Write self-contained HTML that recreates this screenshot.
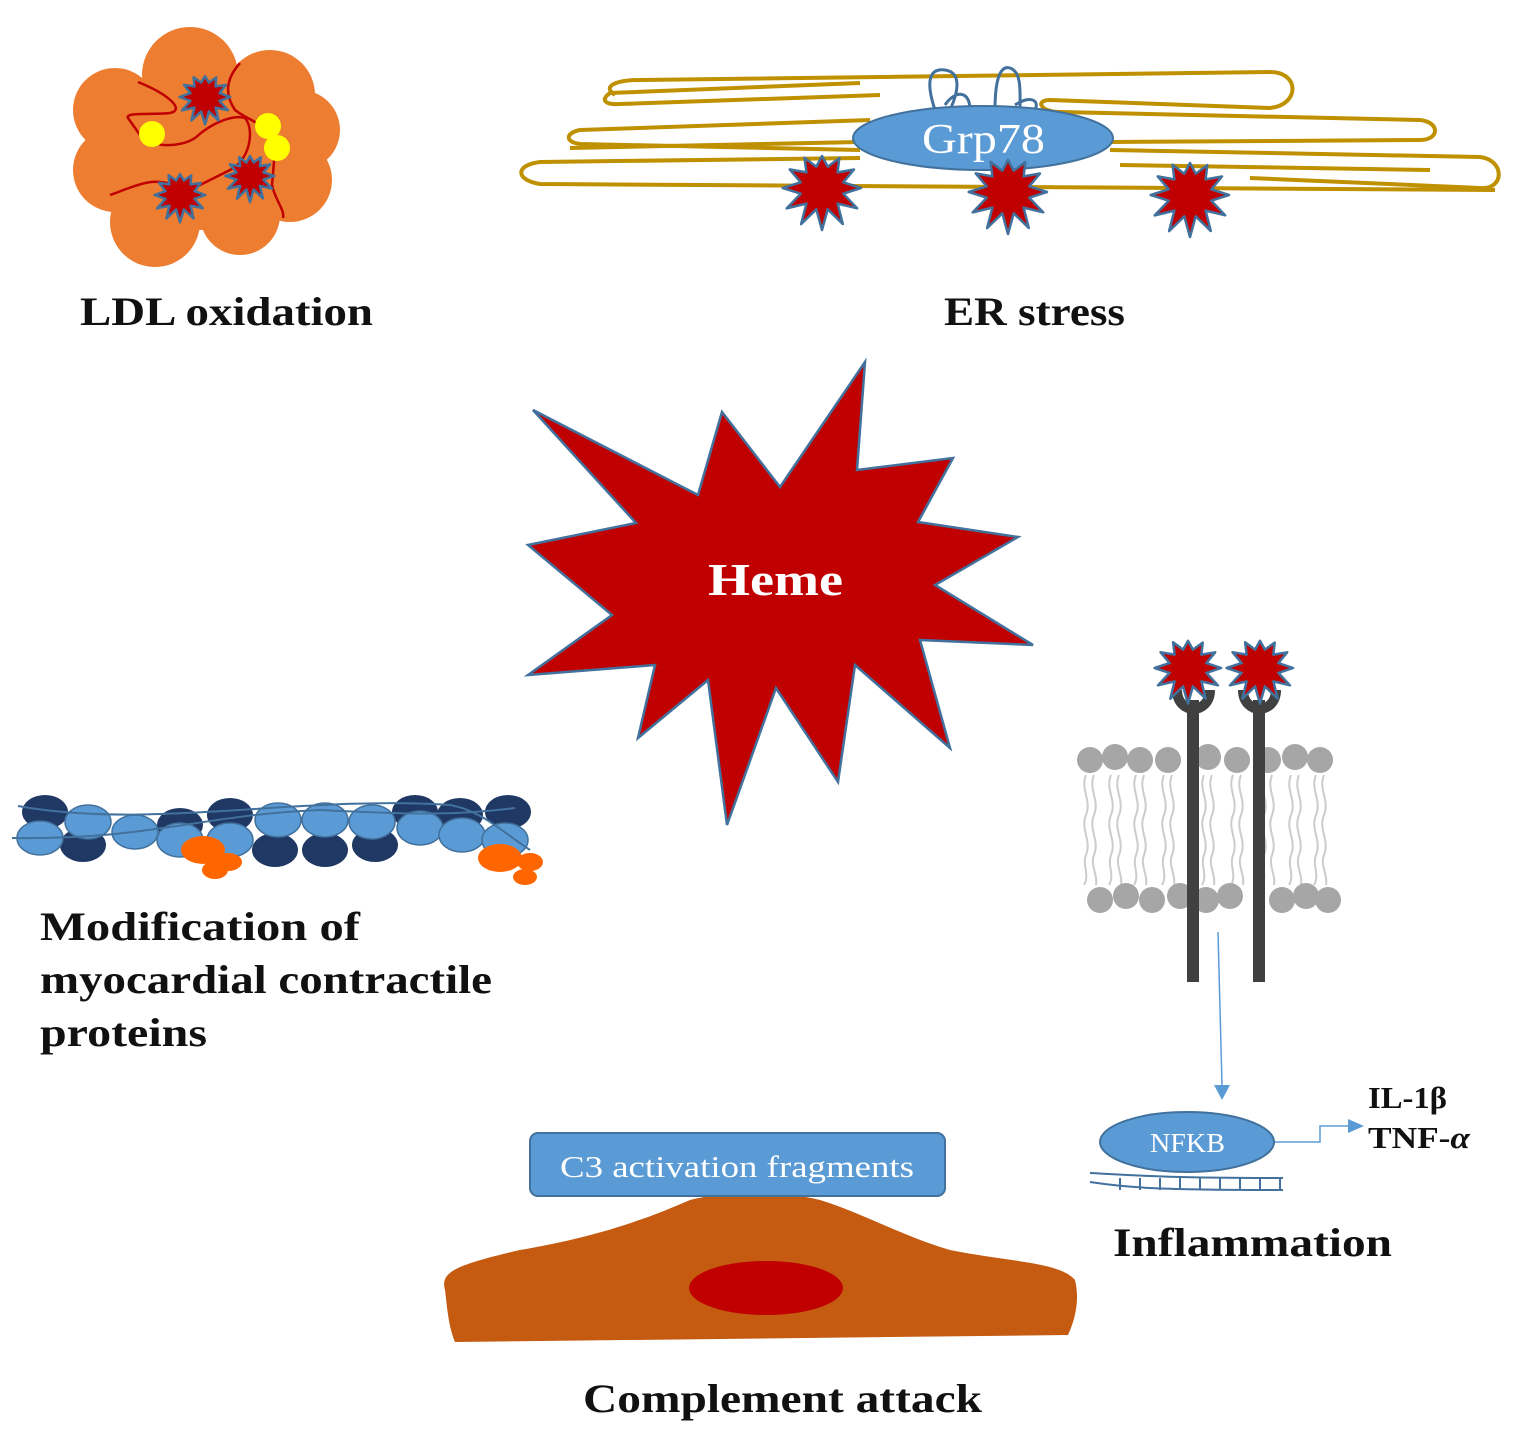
<!DOCTYPE html>
<html><head><meta charset="utf-8"><style>
body{margin:0;background:#fff}
svg{display:block}
.lab{font-family:"Liberation Serif",serif;font-weight:bold;fill:#111}
</style></head><body>
<svg id="s" width="1527" height="1446" viewBox="0 0 1527 1446" xmlns="http://www.w3.org/2000/svg">
<!-- LDL -->
<g fill="#ED7D31">
<circle cx="190" cy="75" r="48"/><circle cx="270" cy="95" r="45"/><circle cx="300" cy="130" r="40"/>
<circle cx="290" cy="180" r="42"/><circle cx="240" cy="215" r="40"/><circle cx="155" cy="222" r="45"/>
<circle cx="115" cy="170" r="42"/><circle cx="115" cy="110" r="42"/><circle cx="200" cy="150" r="80"/>
</g>
<g fill="none" stroke="#C00000" stroke-width="2.5">
<path d="M138 82 C170 95 185 110 170 113 C150 115 125 112 128 118 L140 135 C150 148 180 148 195 138 C215 120 235 115 245 118 C255 130 250 160 230 170 L200 185 C190 190 175 183 160 182 C145 180 125 190 110 195"/>
<path d="M240 63 C225 80 225 95 235 110 C250 122 265 120 275 150 L272 185 C275 200 285 210 283 218"/>
</g>
<circle cx="152" cy="134" r="13" fill="#FFFF00"/><circle cx="268" cy="126" r="13" fill="#FFFF00"/><circle cx="277" cy="148" r="13" fill="#FFFF00"/>
<g id="ldlstars"></g>
<!-- ER -->
<g fill="none" stroke="#BF9000" stroke-width="4">
<path d="M615 95 C600 85 620 80 640 80 L1270 72 C1300 72 1300 105 1270 108 L1050 100 C1035 100 1040 112 1060 112 L1420 120 C1440 122 1440 140 1420 140 L1110 142"/>
<path d="M860 83 L610 93 C600 100 605 105 620 104 L880 95 M870 120 L580 130 C565 133 565 142 580 144 L860 150"/>
<path d="M1110 150 L1480 157 C1505 160 1505 190 1480 188 L1250 178 M1120 165 L1430 170"/>
<path d="M860 158 L540 162 C515 165 515 180 540 184 L1495 190 M860 142 L570 148"/>
</g>
<g fill="none" stroke="#41719C" stroke-width="3">
<path d="M935 110 C925 80 930 68 945 70 C960 72 960 88 950 110 M945 105 C955 90 970 90 970 110"/>
<path d="M995 110 C995 80 1000 65 1010 68 C1022 72 1020 92 1020 110 M1015 105 C1030 95 1040 100 1035 110"/>
</g>
<ellipse cx="983" cy="138" rx="130" ry="32" fill="#5B9BD5" stroke="#41719C" stroke-width="2"/>
<text x="922" y="153" textLength="123" lengthAdjust="spacingAndGlyphs" font-family="Liberation Serif,serif" font-size="42" fill="#fff">Grp78</text>
<g id="erstars"></g>
<text class="lab" x="80" y="325" font-size="40" textLength="293" lengthAdjust="spacingAndGlyphs">LDL oxidation</text>
<text class="lab" x="944" y="325" font-size="40" textLength="181" lengthAdjust="spacingAndGlyphs">ER stress</text>
<!-- Heme -->
<polygon points="865,362 857,470 953,458 918,522 1018,537 935,585 1033,645 920,640 950,748 855,665 838,782 776,688 727,825 708,680 638,738 655,665 528,675 612,615 528,545 636,523 533,410 698,495 722,412 780,487" fill="#C00000" stroke="#41719C" stroke-width="2.5"/>
<text x="708" y="595" textLength="135" lengthAdjust="spacingAndGlyphs" font-family="Liberation Serif,serif" font-weight="bold" font-size="46" fill="#fff">Heme</text>
<!-- muscle -->
<g id="muscle"></g>
<text class="lab" x="40" y="940" font-size="40" textLength="320" lengthAdjust="spacingAndGlyphs">Modification of</text>
<text class="lab" x="40" y="993" font-size="40" textLength="452" lengthAdjust="spacingAndGlyphs">myocardial contractile</text>
<text class="lab" x="40" y="1046" font-size="40" textLength="167" lengthAdjust="spacingAndGlyphs">proteins</text>
<!-- membrane -->
<g id="mem"></g>
<rect x="1187" y="700" width="12" height="282" fill="#404040"/>
<rect x="1253" y="700" width="12" height="282" fill="#404040"/>
<path d="M1177 690 C1177 715 1210 715 1210 690" fill="none" stroke="#404040" stroke-width="10"/>
<path d="M1243 690 C1243 715 1276 715 1276 690" fill="none" stroke="#404040" stroke-width="10"/>
<g id="recstars"></g>
<line x1="1218" y1="932" x2="1222" y2="1085" stroke="#5B9BD5" stroke-width="1.5"/>
<polygon points="1214,1085 1230,1085 1222,1100" fill="#5B9BD5"/>
<g fill="none" stroke="#41719C" stroke-width="2">
<path d="M1090 1173 C1130 1175 1160 1178 1283 1178 M1090 1182 C1130 1188 1160 1190 1283 1190"/>
<path d="M1120 1178 v12 M1140 1178 v12 M1160 1178 v12 M1180 1178 v12 M1200 1178 v12 M1220 1178 v12 M1240 1178 v12 M1260 1178 v12 M1280 1178 v12"/>
</g>
<ellipse cx="1187" cy="1142" rx="87" ry="30" fill="#5B9BD5" stroke="#41719C" stroke-width="2"/>
<text x="1150" y="1152" textLength="75" lengthAdjust="spacingAndGlyphs" font-family="Liberation Serif,serif" font-size="27" fill="#fff">NFKB</text>
<path d="M1275 1142 H1320 V1126 H1350" fill="none" stroke="#5B9BD5" stroke-width="1.5"/>
<polygon points="1348,1119 1364,1126 1348,1133" fill="#5B9BD5"/>
<text class="lab" x="1368" y="1108" font-size="31" textLength="79" lengthAdjust="spacingAndGlyphs">IL-1β</text>
<text class="lab" x="1368" y="1148" font-size="31" textLength="102" lengthAdjust="spacingAndGlyphs">TNF-<tspan font-style="italic">α</tspan></text>
<text class="lab" x="1113" y="1256" font-size="40" textLength="279" lengthAdjust="spacingAndGlyphs">Inflammation</text>
<!-- complement -->
<path d="M445 1290 C440 1272 455 1265 520 1250 C590 1238 640 1222 690 1200 C720 1192 780 1190 820 1200 C860 1212 900 1235 950 1250 C1010 1262 1060 1262 1075 1280 C1080 1300 1075 1320 1068 1335 L455 1342 C448 1325 447 1305 445 1290 Z" fill="#C55A11"/>
<ellipse cx="766" cy="1288" rx="77" ry="27" fill="#C00000"/>
<rect x="530" y="1133" width="415" height="63" rx="8" fill="#5B9BD5" stroke="#41719C" stroke-width="2"/>
<text x="560" y="1177" textLength="354" lengthAdjust="spacingAndGlyphs" font-family="Liberation Serif,serif" font-size="31" fill="#fff">C3 activation fragments</text>
<text class="lab" x="583" y="1412" font-size="40" textLength="399" lengthAdjust="spacingAndGlyphs">Complement attack</text>
</svg>
<script>
(function(){
var NS="http://www.w3.org/2000/svg";
function star(g,cx,cy,R,r,n){var p=[];for(var i=0;i<2*n;i++){var a=Math.PI*i/n;var rr=i%2?r:R*(0.8+0.25*Math.abs(Math.sin(i*1.7)));p.push((cx+rr*Math.sin(a)).toFixed(1)+","+(cy-rr*Math.cos(a)).toFixed(1));}
var e=document.createElementNS(NS,"polygon");e.setAttribute("points",p.join(" "));e.setAttribute("fill","#C00000");e.setAttribute("stroke","#41719C");e.setAttribute("stroke-width","2.5");e.setAttribute("stroke-linejoin","round");document.getElementById(g).appendChild(e);}
star("ldlstars",205,97,26,15,12);star("ldlstars",180,195,26,15,12);star("ldlstars",250,176,25,14,12);
star("erstars",822,188,40,22,12);star("erstars",1008,192,40,22,12);star("erstars",1190,195,40,22,12);
star("recstars",1188,668,34,19,12);star("recstars",1260,668,34,19,12);
function el(g,tag,at){var e=document.createElementNS(NS,tag);for(var k in at)e.setAttribute(k,at[k]);document.getElementById(g).appendChild(e);}
var tops=[1090,1115,1140,1168,1208,1237,1268,1295,1320],bots=[1100,1126,1152,1180,1206,1230,1282,1306,1328];
tops.forEach(function(x){for(var k=-1;k<=1;k+=2){el("mem","path",{d:"M"+(x+k*4)+" 775 c-6 15 6 25 0 40 c-6 15 6 25 0 40 c-4 10 4 20 "+(k*2)+" 30",fill:"none",stroke:"#ccc","stroke-width":"2"});}});
tops.forEach(function(x,i){el("mem","circle",{cx:x,cy:760+(i%3==1?-3:0),r:13,fill:"#A6A6A6"});});
bots.forEach(function(x,i){el("mem","circle",{cx:x,cy:900+(i%2?-4:0),r:13,fill:"#A6A6A6"});});
var dk=[[45,812],[83,845],[180,825],[230,815],[275,850],[325,850],[375,845],[415,812],[460,815],[508,812]];
dk.forEach(function(c){el("muscle","ellipse",{cx:c[0],cy:c[1],rx:23,ry:17,fill:"#203864"});});
var lt=[[40,838],[88,822],[135,832],[180,840],[230,840],[278,820],[325,820],[372,822],[420,828],[462,835],[505,840]];
lt.forEach(function(c){el("muscle","ellipse",{cx:c[0],cy:c[1],rx:23,ry:17,fill:"#5B9BD5",stroke:"#41719C","stroke-width":"1.5"});});
el("muscle","path",{d:"M18 806 C150 830 300 795 450 805 C480 810 500 830 530 850 M12 838 C150 840 200 815 320 810 C420 815 460 815 515 808",fill:"none",stroke:"#41719C","stroke-width":"2"});
[[203,850,22,14],[215,870,13,9],[228,862,14,9],[500,858,22,14],[525,877,12,8],[530,862,13,9]].forEach(function(c){el("muscle","ellipse",{cx:c[0],cy:c[1],rx:c[2],ry:c[3],fill:"#FF6600"});});
})();
</script>
</body></html>
